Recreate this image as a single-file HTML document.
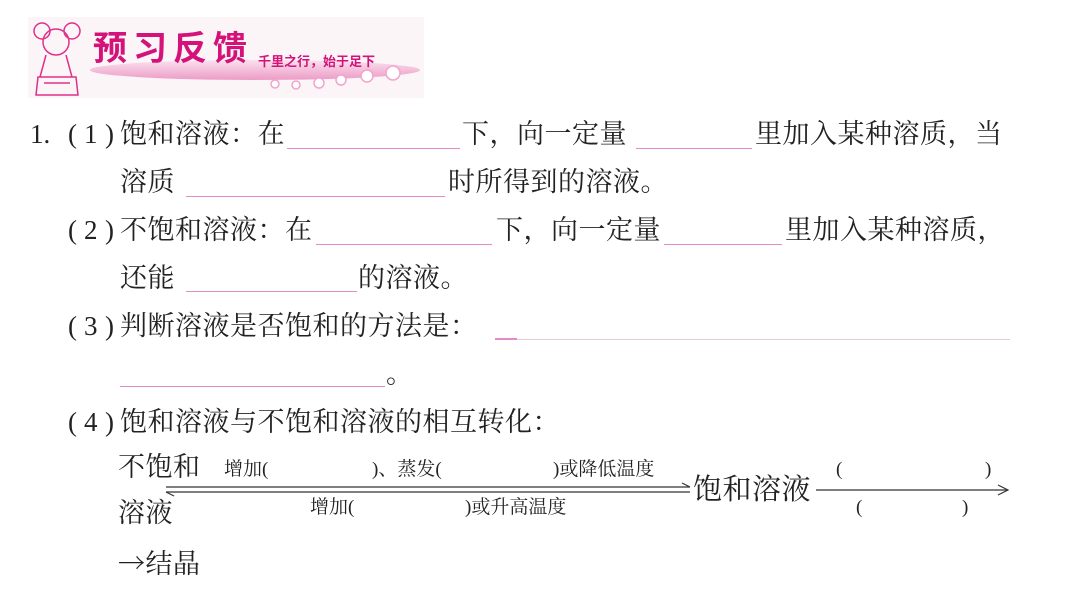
<!DOCTYPE html>
<html><head><meta charset="utf-8"><style>
body{margin:0;width:1066px;height:600px;background:#fff;position:relative;overflow:hidden;font-family:"Liberation Serif","Noto Serif CJK SC",serif;color:#222}
.t{position:absolute;font-size:27px;line-height:27px;white-space:nowrap;letter-spacing:0.5px}
.p{position:absolute;font-size:27px;line-height:27px;white-space:nowrap;font-family:"Liberation Serif",serif}
.s{position:absolute;font-size:19px;line-height:19px;white-space:nowrap;font-family:"Liberation Serif","Noto Serif CJK SC",serif}
.u{position:absolute;height:1px;background:#e48ac4}
</style></head><body>
<!-- header banner -->
<div style="position:absolute;left:28px;top:17px;width:396px;height:81px;background:#fbf5f8"></div>
<div style="position:absolute;left:90px;top:60px;width:330px;height:20px;border-radius:50%;background:linear-gradient(#fbe0ee,#ec9cc6)"></div>
<svg style="position:absolute;left:28px;top:17px" width="396" height="81">
<g fill="none" stroke="#e0308a" stroke-width="1.5">
<circle cx="28" cy="25" r="13"/><circle cx="14" cy="14" r="8"/><circle cx="44" cy="14" r="8"/>
<path d="M18 38 L12 60 M38 38 L44 60 M8 78 L50 78 L48 60 L10 60 Z M16 66 L42 66"/>
</g>
<g fill="#fff" stroke="#f2a4cc" stroke-width="1.5"><circle cx="247" cy="67" r="4"/><circle cx="268" cy="68" r="4"/><circle cx="291" cy="66" r="5"/><circle cx="313" cy="63" r="5"/><circle cx="339" cy="59" r="6"/><circle cx="365" cy="56" r="7"/></g>
</svg>
<div style="position:absolute;left:93px;top:26px;font-size:34px;line-height:40px;font-weight:bold;color:#d4127a;letter-spacing:6px;font-family:'Noto Sans CJK SC',sans-serif">预习反馈</div>
<div style="position:absolute;left:258px;top:51px;font-size:13px;font-weight:bold;color:#d4127a;font-family:'Noto Sans CJK SC',sans-serif">千里之行，始于足下</div>

<!-- line 1 -->
<div class="p" style="left:30px;top:121px">1.</div>
<div class="p" style="left:68px;top:121px">(</div><div class="p" style="left:84px;top:121px">1</div><div class="p" style="left:105px;top:121px">)</div>
<div class="t" style="left:120px;top:121px">饱和溶液：在</div>
<div class="u" style="left:287px;top:148px;width:173px"></div>
<div class="t" style="left:462px;top:121px">下，向一定量</div>
<div class="u" style="left:636px;top:148px;width:116px"></div>
<div class="t" style="left:755px;top:121px">里加入某种溶质，当</div>
<!-- line 2 -->
<div class="t" style="left:120px;top:169px">溶质</div>
<div class="u" style="left:186px;top:196px;width:259px"></div>
<div class="t" style="left:448px;top:169px">时所得到的溶液。</div>
<!-- line 3 -->
<div class="p" style="left:68px;top:217px">(</div><div class="p" style="left:84px;top:217px">2</div><div class="p" style="left:105px;top:217px">)</div>
<div class="t" style="left:120px;top:217px">不饱和溶液：在</div>
<div class="u" style="left:316px;top:244px;width:176px"></div>
<div class="t" style="left:496px;top:217px">下，向一定量</div>
<div class="u" style="left:664px;top:244px;width:118px"></div>
<div class="t" style="left:785px;top:217px">里加入某种溶质，</div>
<!-- line 4 -->
<div class="t" style="left:120px;top:265px">还能</div>
<div class="u" style="left:186px;top:291px;width:171px"></div>
<div class="t" style="left:358px;top:265px">的溶液。</div>
<!-- line 5 -->
<div class="p" style="left:68px;top:313px">(</div><div class="p" style="left:84px;top:313px">3</div><div class="p" style="left:105px;top:313px">)</div>
<div class="t" style="left:120px;top:313px">判断溶液是否饱和的方法是：</div>
<div class="u" style="left:495px;top:339px;width:515px;background:#ebc6dc"></div>
<div class="u" style="left:495px;top:338px;width:22px;height:2px"></div>
<!-- line 6 -->
<div class="u" style="left:120px;top:386px;width:265px"></div>
<div class="t" style="left:386px;top:361px">。</div>
<!-- line 7 -->
<div class="p" style="left:68px;top:409px">(</div><div class="p" style="left:84px;top:409px">4</div><div class="p" style="left:105px;top:409px">)</div>
<div class="t" style="left:120px;top:409px">饱和溶液与不饱和溶液的相互转化：</div>
<!-- diagram -->
<div class="t" style="left:118px;top:454px">不饱和</div>
<div class="t" style="left:118px;top:500px">溶液</div>
<div class="t" style="left:118px;top:548px;font-family:'Noto Serif CJK SC',serif">→结晶</div>
<div class="s" style="left:224px;top:460px">增加(</div>
<div class="s" style="left:372px;top:460px">)、蒸发(</div>
<div class="s" style="left:553px;top:460px">)或降低温度</div>
<div class="s" style="left:310px;top:498px">增加(</div>
<div class="s" style="left:465px;top:498px">)或升高温度</div>
<svg style="position:absolute;left:0;top:0" width="1066" height="600">
<g stroke="#333" stroke-width="1.2" fill="none">
<line x1="166" y1="487" x2="690" y2="487"/><path d="M682 483 L690 487"/>
<line x1="166" y1="492" x2="690" y2="492"/><path d="M166 492 L174 496"/>
<line x1="816" y1="490" x2="1008" y2="490"/><path d="M998 485 L1008 490 L998 495"/>
</g></svg>
<div class="t" style="left:693px;top:476px;font-size:29px;line-height:29px">饱和溶液</div>
<div class="s" style="left:836px;top:460px">(</div>
<div class="s" style="left:985px;top:460px">)</div>
<div class="s" style="left:856px;top:498px">(</div>
<div class="s" style="left:962px;top:498px">)</div>
</body></html>
